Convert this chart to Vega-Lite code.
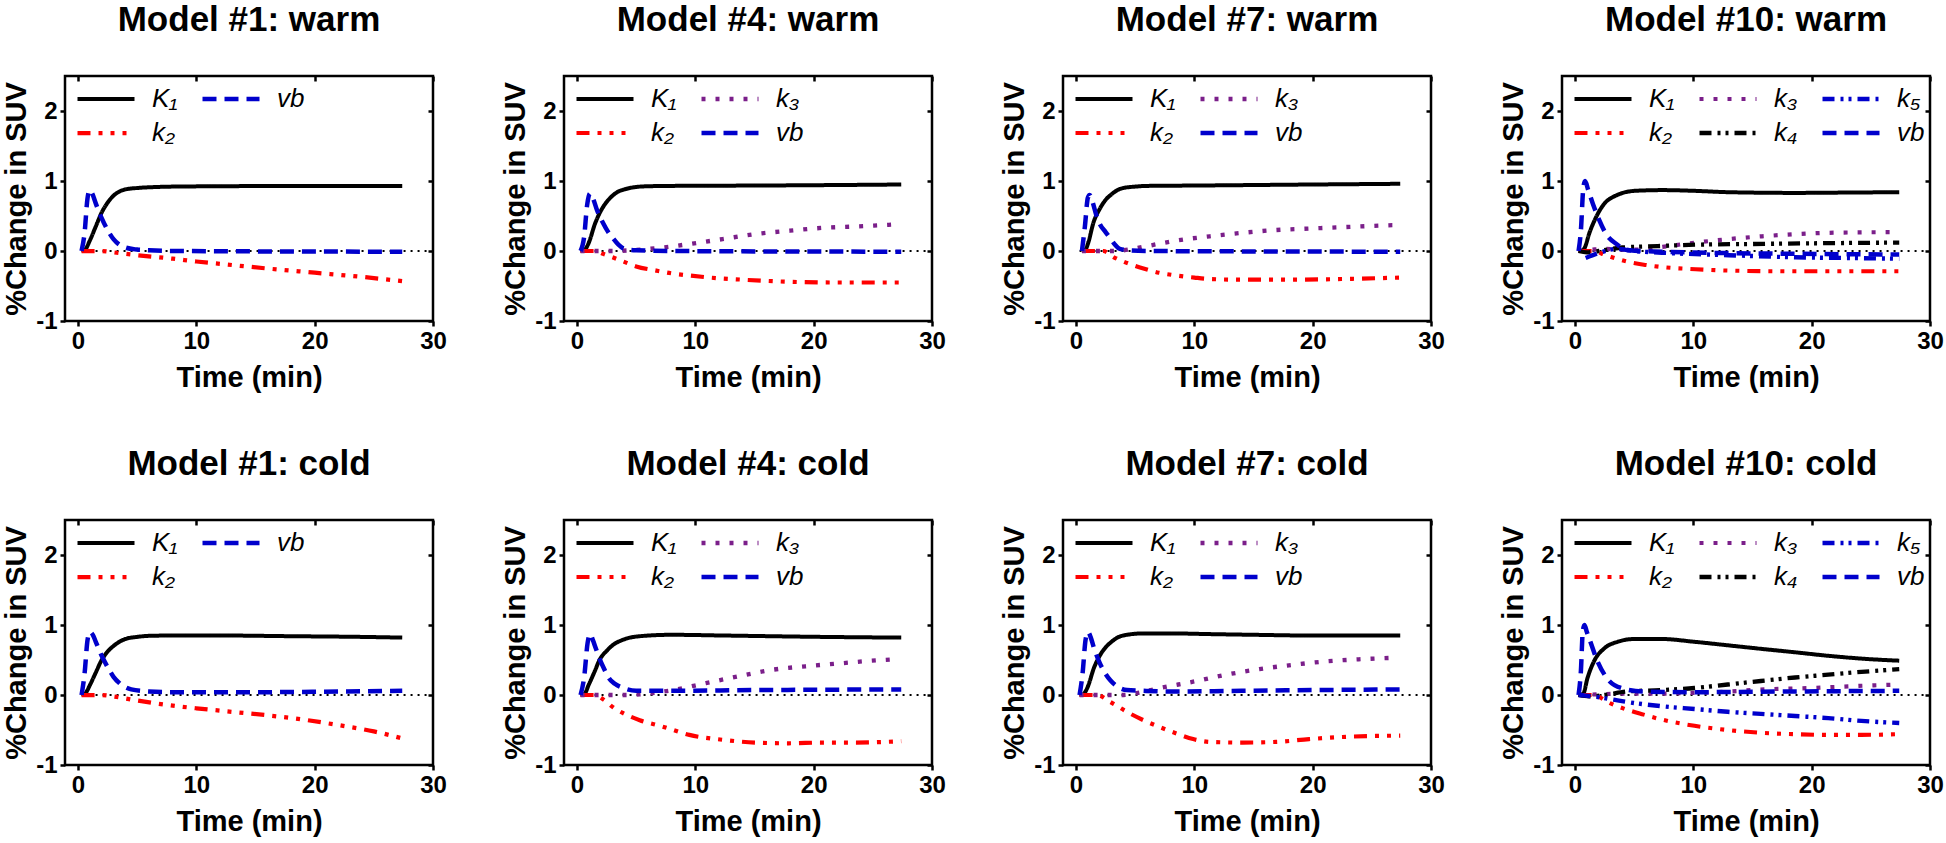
{
"$schema": "https://vega.github.io/schema/vega-lite/v6.json",
"padding": {"left": 1, "top": 1, "right": 0, "bottom": 0},
"background": "white",
"datasets": {
"m1w": [
{"s":"K₁","t":0.3,"v":0},{"s":"K₁","t":0.6,"v":0.02},{"s":"K₁","t":1,"v":0.15},{"s":"K₁","t":1.5,"v":0.35},{"s":"K₁","t":2,"v":0.55},{"s":"K₁","t":2.5,"v":0.69},{"s":"K₁","t":3,"v":0.79},{"s":"K₁","t":3.5,"v":0.85},{"s":"K₁","t":4,"v":0.88},{"s":"K₁","t":5,"v":0.9},{"s":"K₁","t":6,"v":0.91},{"s":"K₁","t":8,"v":0.92},{"s":"K₁","t":12,"v":0.925},{"s":"K₁","t":18,"v":0.93},{"s":"K₁","t":27.4,"v":0.93},
{"s":"k₂","t":0.3,"v":0},{"s":"k₂","t":2,"v":0},{"s":"k₂","t":3,"v":-0.02},{"s":"k₂","t":5,"v":-0.06},{"s":"k₂","t":8,"v":-0.11},{"s":"k₂","t":10,"v":-0.15},{"s":"k₂","t":13,"v":-0.2},{"s":"k₂","t":16,"v":-0.25},{"s":"k₂","t":20,"v":-0.31},{"s":"k₂","t":24,"v":-0.37},{"s":"k₂","t":27.4,"v":-0.43},
{"s":"vb","t":0.3,"v":0},{"s":"vb","t":0.55,"v":0.25},{"s":"vb","t":0.8,"v":0.75},{"s":"vb","t":1,"v":0.87},{"s":"vb","t":1.2,"v":0.82},{"s":"vb","t":1.5,"v":0.68},{"s":"vb","t":2,"v":0.47},{"s":"vb","t":2.5,"v":0.3},{"s":"vb","t":3,"v":0.17},{"s":"vb","t":3.5,"v":0.09},{"s":"vb","t":4,"v":0.05},{"s":"vb","t":5,"v":0.02},{"s":"vb","t":6,"v":0.01},{"s":"vb","t":8,"v":0},{"s":"vb","t":27.4,"v":-0.01}
],
"m1c": [
{"s":"K₁","t":0.3,"v":0},{"s":"K₁","t":0.6,"v":0.02},{"s":"K₁","t":1,"v":0.14},{"s":"K₁","t":1.5,"v":0.32},{"s":"K₁","t":2,"v":0.5},{"s":"K₁","t":2.5,"v":0.62},{"s":"K₁","t":3,"v":0.7},{"s":"K₁","t":3.5,"v":0.76},{"s":"K₁","t":4,"v":0.8},{"s":"K₁","t":5,"v":0.83},{"s":"K₁","t":6,"v":0.845},{"s":"K₁","t":8,"v":0.85},{"s":"K₁","t":12,"v":0.85},{"s":"K₁","t":18,"v":0.84},{"s":"K₁","t":24,"v":0.83},{"s":"K₁","t":27.4,"v":0.82},
{"s":"k₂","t":0.3,"v":0},{"s":"k₂","t":2,"v":0},{"s":"k₂","t":3,"v":-0.02},{"s":"k₂","t":4.7,"v":-0.07},{"s":"k₂","t":7,"v":-0.13},{"s":"k₂","t":10,"v":-0.19},{"s":"k₂","t":13,"v":-0.24},{"s":"k₂","t":16,"v":-0.29},{"s":"k₂","t":19,"v":-0.35},{"s":"k₂","t":22,"v":-0.43},{"s":"k₂","t":25,"v":-0.52},{"s":"k₂","t":27.4,"v":-0.62},
{"s":"vb","t":0.3,"v":0},{"s":"vb","t":0.55,"v":0.3},{"s":"vb","t":0.8,"v":0.78},{"s":"vb","t":1,"v":0.9},{"s":"vb","t":1.25,"v":0.86},{"s":"vb","t":1.5,"v":0.76},{"s":"vb","t":2,"v":0.56},{"s":"vb","t":2.5,"v":0.4},{"s":"vb","t":3,"v":0.26},{"s":"vb","t":3.5,"v":0.17},{"s":"vb","t":4.5,"v":0.08},{"s":"vb","t":6,"v":0.05},{"s":"vb","t":8,"v":0.04},{"s":"vb","t":15,"v":0.04},{"s":"vb","t":22,"v":0.05},{"s":"vb","t":27.4,"v":0.06}
],
"m4w": [
{"s":"K₁","t":0.3,"v":0},{"s":"K₁","t":0.6,"v":0.01},{"s":"K₁","t":1,"v":0.12},{"s":"K₁","t":1.5,"v":0.38},{"s":"K₁","t":2,"v":0.57},{"s":"K₁","t":2.5,"v":0.7},{"s":"K₁","t":3,"v":0.79},{"s":"K₁","t":3.5,"v":0.85},{"s":"K₁","t":4,"v":0.88},{"s":"K₁","t":5,"v":0.915},{"s":"K₁","t":6,"v":0.925},{"s":"K₁","t":8,"v":0.93},{"s":"K₁","t":15,"v":0.935},{"s":"K₁","t":20,"v":0.94},{"s":"K₁","t":27.4,"v":0.95},
{"s":"k₂","t":0.3,"v":0},{"s":"k₂","t":1.5,"v":0},{"s":"k₂","t":2.2,"v":-0.04},{"s":"k₂","t":3,"v":-0.09},{"s":"k₂","t":3.9,"v":-0.15},{"s":"k₂","t":5,"v":-0.22},{"s":"k₂","t":6.7,"v":-0.28},{"s":"k₂","t":8,"v":-0.32},{"s":"k₂","t":9.5,"v":-0.35},{"s":"k₂","t":12,"v":-0.39},{"s":"k₂","t":14,"v":-0.41},{"s":"k₂","t":18,"v":-0.44},{"s":"k₂","t":22,"v":-0.45},{"s":"k₂","t":27.4,"v":-0.45},
{"s":"k₃","t":0.3,"v":0},{"s":"k₃","t":3,"v":0},{"s":"k₃","t":4.5,"v":0.01},{"s":"k₃","t":6.7,"v":0.04},{"s":"k₃","t":9.5,"v":0.1},{"s":"k₃","t":12.3,"v":0.17},{"s":"k₃","t":15,"v":0.24},{"s":"k₃","t":18,"v":0.29},{"s":"k₃","t":20.7,"v":0.33},{"s":"k₃","t":23.5,"v":0.35},{"s":"k₃","t":27,"v":0.38},
{"s":"vb","t":0.3,"v":0},{"s":"vb","t":0.6,"v":0.2},{"s":"vb","t":0.85,"v":0.65},{"s":"vb","t":1.1,"v":0.82},{"s":"vb","t":1.35,"v":0.75},{"s":"vb","t":1.7,"v":0.58},{"s":"vb","t":2.2,"v":0.4},{"s":"vb","t":2.6,"v":0.28},{"s":"vb","t":3,"v":0.19},{"s":"vb","t":3.5,"v":0.09},{"s":"vb","t":4,"v":0.03},{"s":"vb","t":5,"v":0.01},{"s":"vb","t":8,"v":0},{"s":"vb","t":27.4,"v":-0.01}
],
"m4c": [
{"s":"K₁","t":0.3,"v":0},{"s":"K₁","t":0.6,"v":0.01},{"s":"K₁","t":1,"v":0.15},{"s":"K₁","t":1.5,"v":0.34},{"s":"K₁","t":1.9,"v":0.5},{"s":"K₁","t":2.5,"v":0.63},{"s":"K₁","t":3,"v":0.71},{"s":"K₁","t":3.9,"v":0.79},{"s":"K₁","t":5.3,"v":0.84},{"s":"K₁","t":8,"v":0.86},{"s":"K₁","t":12.3,"v":0.85},{"s":"K₁","t":20.7,"v":0.83},{"s":"K₁","t":27.4,"v":0.82},
{"s":"k₂","t":0.3,"v":0},{"s":"k₂","t":1.5,"v":0},{"s":"k₂","t":2.2,"v":-0.06},{"s":"k₂","t":3,"v":-0.17},{"s":"k₂","t":3.9,"v":-0.26},{"s":"k₂","t":5.3,"v":-0.36},{"s":"k₂","t":7.2,"v":-0.45},{"s":"k₂","t":9.5,"v":-0.57},{"s":"k₂","t":12.3,"v":-0.64},{"s":"k₂","t":15.1,"v":-0.68},{"s":"k₂","t":17.9,"v":-0.69},{"s":"k₂","t":20.7,"v":-0.68},{"s":"k₂","t":23.5,"v":-0.68},{"s":"k₂","t":27.4,"v":-0.66},
{"s":"k₃","t":0.3,"v":0},{"s":"k₃","t":4,"v":0},{"s":"k₃","t":5.3,"v":0.01},{"s":"k₃","t":8.1,"v":0.07},{"s":"k₃","t":10.9,"v":0.17},{"s":"k₃","t":13.7,"v":0.27},{"s":"k₃","t":16.5,"v":0.36},{"s":"k₃","t":19.3,"v":0.41},{"s":"k₃","t":22.1,"v":0.45},{"s":"k₃","t":24.9,"v":0.49},{"s":"k₃","t":26.8,"v":0.51},
{"s":"vb","t":0.3,"v":0},{"s":"vb","t":0.6,"v":0.25},{"s":"vb","t":0.9,"v":0.75},{"s":"vb","t":1.1,"v":0.87},{"s":"vb","t":1.35,"v":0.78},{"s":"vb","t":1.6,"v":0.66},{"s":"vb","t":1.9,"v":0.52},{"s":"vb","t":2.3,"v":0.37},{"s":"vb","t":2.7,"v":0.24},{"s":"vb","t":3.2,"v":0.16},{"s":"vb","t":3.9,"v":0.1},{"s":"vb","t":5,"v":0.06},{"s":"vb","t":8,"v":0.06},{"s":"vb","t":15,"v":0.07},{"s":"vb","t":27.4,"v":0.08}
],
"m7w": [
{"s":"K₁","t":0.5,"v":0},{"s":"K₁","t":0.8,"v":0.02},{"s":"K₁","t":1,"v":0.1},{"s":"K₁","t":1.5,"v":0.42},{"s":"K₁","t":2,"v":0.6},{"s":"K₁","t":2.5,"v":0.73},{"s":"K₁","t":3,"v":0.81},{"s":"K₁","t":3.5,"v":0.87},{"s":"K₁","t":4,"v":0.9},{"s":"K₁","t":5,"v":0.92},{"s":"K₁","t":6,"v":0.93},{"s":"K₁","t":10,"v":0.935},{"s":"K₁","t":20,"v":0.95},{"s":"K₁","t":27.4,"v":0.96},
{"s":"k₂","t":0.5,"v":0},{"s":"k₂","t":2.3,"v":0},{"s":"k₂","t":3.2,"v":-0.09},{"s":"k₂","t":4,"v":-0.15},{"s":"k₂","t":5.7,"v":-0.25},{"s":"k₂","t":7,"v":-0.31},{"s":"k₂","t":8.5,"v":-0.35},{"s":"k₂","t":10,"v":-0.38},{"s":"k₂","t":11.3,"v":-0.4},{"s":"k₂","t":14,"v":-0.41},{"s":"k₂","t":18,"v":-0.41},{"s":"k₂","t":22.5,"v":-0.4},{"s":"k₂","t":27.4,"v":-0.38},
{"s":"k₃","t":0.5,"v":0},{"s":"k₃","t":3,"v":0},{"s":"k₃","t":4,"v":0.01},{"s":"k₃","t":5.7,"v":0.06},{"s":"k₃","t":8.5,"v":0.15},{"s":"k₃","t":11.3,"v":0.21},{"s":"k₃","t":14.1,"v":0.26},{"s":"k₃","t":16.9,"v":0.3},{"s":"k₃","t":19.7,"v":0.32},{"s":"k₃","t":22.5,"v":0.34},{"s":"k₃","t":26.8,"v":0.37},
{"s":"vb","t":0.5,"v":0},{"s":"vb","t":0.75,"v":0.35},{"s":"vb","t":1,"v":0.76},{"s":"vb","t":1.15,"v":0.8},{"s":"vb","t":1.4,"v":0.7},{"s":"vb","t":1.7,"v":0.52},{"s":"vb","t":2,"v":0.39},{"s":"vb","t":2.5,"v":0.27},{"s":"vb","t":2.9,"v":0.18},{"s":"vb","t":3.3,"v":0.09},{"s":"vb","t":3.7,"v":0.03},{"s":"vb","t":4.5,"v":0.01},{"s":"vb","t":6,"v":0},{"s":"vb","t":27.4,"v":-0.01}
],
"m7c": [
{"s":"K₁","t":0.3,"v":0},{"s":"K₁","t":0.6,"v":0.01},{"s":"K₁","t":1,"v":0.12},{"s":"K₁","t":1.5,"v":0.38},{"s":"K₁","t":2,"v":0.56},{"s":"K₁","t":2.5,"v":0.68},{"s":"K₁","t":3,"v":0.76},{"s":"K₁","t":3.5,"v":0.82},{"s":"K₁","t":4.3,"v":0.86},{"s":"K₁","t":5.7,"v":0.88},{"s":"K₁","t":8,"v":0.88},{"s":"K₁","t":11.3,"v":0.87},{"s":"K₁","t":15,"v":0.86},{"s":"K₁","t":19.7,"v":0.85},{"s":"K₁","t":27.4,"v":0.85},
{"s":"k₂","t":0.3,"v":0},{"s":"k₂","t":1.8,"v":0},{"s":"k₂","t":2.9,"v":-0.1},{"s":"k₂","t":4.3,"v":-0.24},{"s":"k₂","t":5.7,"v":-0.36},{"s":"k₂","t":7.1,"v":-0.46},{"s":"k₂","t":8.5,"v":-0.55},{"s":"k₂","t":9.9,"v":-0.63},{"s":"k₂","t":11.3,"v":-0.67},{"s":"k₂","t":14.1,"v":-0.68},{"s":"k₂","t":16.9,"v":-0.67},{"s":"k₂","t":19.7,"v":-0.63},{"s":"k₂","t":22.5,"v":-0.6},{"s":"k₂","t":27.4,"v":-0.58},
{"s":"k₃","t":0.3,"v":0},{"s":"k₃","t":4,"v":0},{"s":"k₃","t":5.5,"v":0.04},{"s":"k₃","t":7.1,"v":0.1},{"s":"k₃","t":9.9,"v":0.19},{"s":"k₃","t":12.7,"v":0.29},{"s":"k₃","t":15.5,"v":0.37},{"s":"k₃","t":18.3,"v":0.43},{"s":"k₃","t":21.1,"v":0.48},{"s":"k₃","t":23.9,"v":0.51},{"s":"k₃","t":26.7,"v":0.53},
{"s":"vb","t":0.3,"v":0},{"s":"vb","t":0.55,"v":0.3},{"s":"vb","t":0.8,"v":0.78},{"s":"vb","t":1,"v":0.9},{"s":"vb","t":1.25,"v":0.82},{"s":"vb","t":1.5,"v":0.68},{"s":"vb","t":2,"v":0.46},{"s":"vb","t":2.5,"v":0.3},{"s":"vb","t":2.9,"v":0.21},{"s":"vb","t":3.5,"v":0.12},{"s":"vb","t":4.3,"v":0.07},{"s":"vb","t":5.7,"v":0.06},{"s":"vb","t":8,"v":0.05},{"s":"vb","t":14,"v":0.06},{"s":"vb","t":20,"v":0.07},{"s":"vb","t":27.4,"v":0.08}
],
"m10w": [
{"s":"K₁","t":0.5,"v":0},{"s":"K₁","t":0.8,"v":0.04},{"s":"K₁","t":1.2,"v":0.25},{"s":"K₁","t":1.8,"v":0.49},{"s":"K₁","t":2.6,"v":0.7},{"s":"K₁","t":3.2,"v":0.77},{"s":"K₁","t":3.7,"v":0.81},{"s":"K₁","t":5.1,"v":0.86},{"s":"K₁","t":7.4,"v":0.87},{"s":"K₁","t":10,"v":0.86},{"s":"K₁","t":13,"v":0.84},{"s":"K₁","t":18.6,"v":0.83},{"s":"K₁","t":23,"v":0.835},{"s":"K₁","t":27.4,"v":0.84},
{"s":"k₂","t":0.3,"v":0},{"s":"k₂","t":1.5,"v":0},{"s":"k₂","t":2.6,"v":-0.06},{"s":"k₂","t":3.5,"v":-0.11},{"s":"k₂","t":4.6,"v":-0.16},{"s":"k₂","t":6,"v":-0.2},{"s":"k₂","t":7.4,"v":-0.23},{"s":"k₂","t":10.2,"v":-0.26},{"s":"k₂","t":13,"v":-0.28},{"s":"k₂","t":18.6,"v":-0.29},{"s":"k₂","t":27.4,"v":-0.29},
{"s":"k₃","t":0.3,"v":0},{"s":"k₃","t":1.5,"v":0.02},{"s":"k₃","t":2.5,"v":0.03},{"s":"k₃","t":4,"v":0.02},{"s":"k₃","t":5.5,"v":0.02},{"s":"k₃","t":7.4,"v":0.06},{"s":"k₃","t":10.2,"v":0.12},{"s":"k₃","t":13,"v":0.17},{"s":"k₃","t":15.8,"v":0.21},{"s":"k₃","t":18.6,"v":0.24},{"s":"k₃","t":21.5,"v":0.26},{"s":"k₃","t":27.4,"v":0.27},
{"s":"k₄","t":0.3,"v":0},{"s":"k₄","t":1,"v":-0.02},{"s":"k₄","t":2,"v":0},{"s":"k₄","t":4,"v":0.05},{"s":"k₄","t":7,"v":0.07},{"s":"k₄","t":10.2,"v":0.09},{"s":"k₄","t":15,"v":0.1},{"s":"k₄","t":20,"v":0.11},{"s":"k₄","t":27.4,"v":0.12},
{"s":"k₅","t":0.9,"v":-0.1},{"s":"k₅","t":2,"v":-0.03},{"s":"k₅","t":3.5,"v":0.03},{"s":"k₅","t":5,"v":0},{"s":"k₅","t":8,"v":-0.03},{"s":"k₅","t":13,"v":-0.06},{"s":"k₅","t":18.6,"v":-0.09},{"s":"k₅","t":23,"v":-0.1},{"s":"k₅","t":27.4,"v":-0.11},
{"s":"vb","t":0.3,"v":0},{"s":"vb","t":0.5,"v":0.3},{"s":"vb","t":0.7,"v":0.9},{"s":"vb","t":0.85,"v":1},{"s":"vb","t":1.1,"v":0.88},{"s":"vb","t":1.5,"v":0.68},{"s":"vb","t":2.05,"v":0.44},{"s":"vb","t":2.6,"v":0.25},{"s":"vb","t":3.5,"v":0.1},{"s":"vb","t":4.6,"v":0.01},{"s":"vb","t":7.4,"v":-0.01},{"s":"vb","t":13,"v":-0.03},{"s":"vb","t":18.6,"v":-0.04},{"s":"vb","t":27.4,"v":-0.05}
],
"m10c": [
{"s":"K₁","t":0.3,"v":0},{"s":"K₁","t":0.7,"v":0.02},{"s":"K₁","t":1.05,"v":0.24},{"s":"K₁","t":1.6,"v":0.48},{"s":"K₁","t":2.5,"v":0.67},{"s":"K₁","t":3.6,"v":0.76},{"s":"K₁","t":5,"v":0.8},{"s":"K₁","t":7.3,"v":0.8},{"s":"K₁","t":10.1,"v":0.76},{"s":"K₁","t":12.9,"v":0.71},{"s":"K₁","t":15.7,"v":0.66},{"s":"K₁","t":18.6,"v":0.61},{"s":"K₁","t":21.4,"v":0.56},{"s":"K₁","t":24.2,"v":0.52},{"s":"K₁","t":27.4,"v":0.49},
{"s":"k₂","t":0.3,"v":0},{"s":"k₂","t":1.5,"v":0},{"s":"k₂","t":3,"v":-0.12},{"s":"k₂","t":4.4,"v":-0.21},{"s":"k₂","t":5.8,"v":-0.28},{"s":"k₂","t":7.3,"v":-0.35},{"s":"k₂","t":10.1,"v":-0.44},{"s":"k₂","t":12.9,"v":-0.5},{"s":"k₂","t":15.7,"v":-0.54},{"s":"k₂","t":18.6,"v":-0.56},{"s":"k₂","t":21.4,"v":-0.57},{"s":"k₂","t":24,"v":-0.57},{"s":"k₂","t":27.4,"v":-0.56},
{"s":"k₃","t":0.3,"v":0},{"s":"k₃","t":2,"v":0.01},{"s":"k₃","t":4,"v":0.02},{"s":"k₃","t":7,"v":0.02},{"s":"k₃","t":10,"v":0.03},{"s":"k₃","t":13,"v":0.05},{"s":"k₃","t":16,"v":0.08},{"s":"k₃","t":20,"v":0.1},{"s":"k₃","t":24,"v":0.13},{"s":"k₃","t":27.4,"v":0.15},
{"s":"k₄","t":0.3,"v":0},{"s":"k₄","t":1.2,"v":-0.02},{"s":"k₄","t":2.5,"v":0},{"s":"k₄","t":4.4,"v":0.05},{"s":"k₄","t":7.3,"v":0.07},{"s":"k₄","t":10.1,"v":0.1},{"s":"k₄","t":12.9,"v":0.15},{"s":"k₄","t":15.7,"v":0.2},{"s":"k₄","t":18.6,"v":0.25},{"s":"k₄","t":21.4,"v":0.29},{"s":"k₄","t":24.2,"v":0.33},{"s":"k₄","t":27.4,"v":0.37},
{"s":"k₅","t":0.3,"v":0},{"s":"k₅","t":1.5,"v":-0.02},{"s":"k₅","t":3,"v":-0.06},{"s":"k₅","t":4.4,"v":-0.1},{"s":"k₅","t":7.3,"v":-0.16},{"s":"k₅","t":10.1,"v":-0.2},{"s":"k₅","t":12.9,"v":-0.24},{"s":"k₅","t":15.7,"v":-0.27},{"s":"k₅","t":18.6,"v":-0.3},{"s":"k₅","t":21.4,"v":-0.33},{"s":"k₅","t":24.2,"v":-0.37},{"s":"k₅","t":27.4,"v":-0.4},
{"s":"vb","t":0.3,"v":0},{"s":"vb","t":0.5,"v":0.35},{"s":"vb","t":0.65,"v":0.9},{"s":"vb","t":0.8,"v":1},{"s":"vb","t":1,"v":0.9},{"s":"vb","t":1.3,"v":0.76},{"s":"vb","t":1.9,"v":0.48},{"s":"vb","t":2.7,"v":0.24},{"s":"vb","t":3.9,"v":0.1},{"s":"vb","t":5.8,"v":0.05},{"s":"vb","t":10,"v":0.04},{"s":"vb","t":18,"v":0.05},{"s":"vb","t":27.4,"v":0.06}
]
},
"columns": 4,
"bounds": "flush",
"spacing": {"row": 199, "column": 131},
"resolve": {"scale": {"x": "independent", "y": "independent", "color": "independent", "strokeDash": "independent", "strokeWidth": "independent"}, "legend": {"color": "independent", "strokeDash": "independent", "strokeWidth": "independent"}},
"concat": [
{"title": "Model #1: warm", "width": 368, "height": 245, "resolve": {"axis": {"x": "independent", "y": "independent"}},
 "layer": [
  {"data": {"values": [{}]}, "mark": {"type": "rule", "color": "black", "strokeWidth": 2, "strokeDash": [2, 5]},
   "encoding": {"x": {"datum": 0.3, "type": "quantitative", "scale": {"domain": [-1.1, 30], "nice": false, "zero": false}, "axis": {"orient": "top", "values": [0, 10, 20, 30], "labels": false, "title": null, "tickSize": -5}}, "x2": {"datum": 29.5},
    "y": {"datum": 0, "type": "quantitative", "scale": {"domain": [-1, 2.5], "nice": false, "zero": false}, "axis": {"orient": "right", "values": [-1, 0, 1, 2], "labels": false, "title": null, "tickSize": -5}}}},
  {"data": {"name": "m1w"}, "mark": {"type": "line", "interpolate": "monotone"},
   "encoding": {"x": {"field": "t", "type": "quantitative", "scale": {"domain": [-1.1, 30], "nice": false, "zero": false}, "axis": {"title": "Time (min)", "values": [0, 10, 20, 30]}},
    "y": {"field": "v", "type": "quantitative", "scale": {"domain": [-1, 2.5], "nice": false, "zero": false}, "axis": {"title": "%Change in SUV", "values": [-1, 0, 1, 2], "labelExpr": "'' + datum.value"}},
    "color": {"field": "s", "type": "nominal", "scale": {"domain": ["K₁", "k₂", "vb"], "range": ["black", "#ff0000", "#0000cc"]}, "legend": {"title": null, "columns": 2}},
    "strokeDash": {"field": "s", "type": "nominal", "scale": {"domain": ["K₁", "k₂", "vb"], "range": [[1, 0], [13, 8, 4, 8, 4, 8, 4, 8], [14, 8]]}, "legend": {"title": null, "columns": 2}},
    "strokeWidth": {"field": "s", "type": "nominal", "scale": {"domain": ["K₁", "k₂", "vb"], "range": [4, 4.5, 5]}, "legend": {"title": null, "columns": 2}}}}
 ]},
{"title": "Model #4: warm", "width": 368, "height": 245, "resolve": {"axis": {"x": "independent", "y": "independent"}},
 "layer": [
  {"data": {"values": [{}]}, "mark": {"type": "rule", "color": "black", "strokeWidth": 2, "strokeDash": [2, 5]},
   "encoding": {"x": {"datum": 0.3, "type": "quantitative", "scale": {"domain": [-1.1, 30], "nice": false, "zero": false}, "axis": {"orient": "top", "values": [0, 10, 20, 30], "labels": false, "title": null, "tickSize": -5}}, "x2": {"datum": 29.5},
    "y": {"datum": 0, "type": "quantitative", "scale": {"domain": [-1, 2.5], "nice": false, "zero": false}, "axis": {"orient": "right", "values": [-1, 0, 1, 2], "labels": false, "title": null, "tickSize": -5}}}},
  {"data": {"name": "m4w"}, "mark": {"type": "line", "interpolate": "monotone"},
   "encoding": {"x": {"field": "t", "type": "quantitative", "scale": {"domain": [-1.1, 30], "nice": false, "zero": false}, "axis": {"title": "Time (min)", "values": [0, 10, 20, 30]}},
    "y": {"field": "v", "type": "quantitative", "scale": {"domain": [-1, 2.5], "nice": false, "zero": false}, "axis": {"title": "%Change in SUV", "values": [-1, 0, 1, 2], "labelExpr": "'' + datum.value"}},
    "color": {"field": "s", "type": "nominal", "scale": {"domain": ["K₁", "k₂", "k₃", "vb"], "range": ["black", "#ff0000", "#7b1f8a", "#0000cc"]}, "legend": {"title": null, "columns": 2}},
    "strokeDash": {"field": "s", "type": "nominal", "scale": {"domain": ["K₁", "k₂", "k₃", "vb"], "range": [[1, 0], [13, 8, 4, 8, 4, 8, 4, 8], [4, 10], [14, 8]]}, "legend": {"title": null, "columns": 2}},
    "strokeWidth": {"field": "s", "type": "nominal", "scale": {"domain": ["K₁", "k₂", "k₃", "vb"], "range": [4, 4.5, 4, 5]}, "legend": {"title": null, "columns": 2}}}}
 ]},
{"title": "Model #7: warm", "width": 368, "height": 245, "resolve": {"axis": {"x": "independent", "y": "independent"}},
 "layer": [
  {"data": {"values": [{}]}, "mark": {"type": "rule", "color": "black", "strokeWidth": 2, "strokeDash": [2, 5]},
   "encoding": {"x": {"datum": 0.3, "type": "quantitative", "scale": {"domain": [-1.1, 30], "nice": false, "zero": false}, "axis": {"orient": "top", "values": [0, 10, 20, 30], "labels": false, "title": null, "tickSize": -5}}, "x2": {"datum": 29.5},
    "y": {"datum": 0, "type": "quantitative", "scale": {"domain": [-1, 2.5], "nice": false, "zero": false}, "axis": {"orient": "right", "values": [-1, 0, 1, 2], "labels": false, "title": null, "tickSize": -5}}}},
  {"data": {"name": "m7w"}, "mark": {"type": "line", "interpolate": "monotone"},
   "encoding": {"x": {"field": "t", "type": "quantitative", "scale": {"domain": [-1.1, 30], "nice": false, "zero": false}, "axis": {"title": "Time (min)", "values": [0, 10, 20, 30]}},
    "y": {"field": "v", "type": "quantitative", "scale": {"domain": [-1, 2.5], "nice": false, "zero": false}, "axis": {"title": "%Change in SUV", "values": [-1, 0, 1, 2], "labelExpr": "'' + datum.value"}},
    "color": {"field": "s", "type": "nominal", "scale": {"domain": ["K₁", "k₂", "k₃", "vb"], "range": ["black", "#ff0000", "#7b1f8a", "#0000cc"]}, "legend": {"title": null, "columns": 2}},
    "strokeDash": {"field": "s", "type": "nominal", "scale": {"domain": ["K₁", "k₂", "k₃", "vb"], "range": [[1, 0], [13, 8, 4, 8, 4, 8, 4, 8], [4, 10], [14, 8]]}, "legend": {"title": null, "columns": 2}},
    "strokeWidth": {"field": "s", "type": "nominal", "scale": {"domain": ["K₁", "k₂", "k₃", "vb"], "range": [4, 4.5, 4, 5]}, "legend": {"title": null, "columns": 2}}}}
 ]},
{"title": "Model #10: warm", "width": 368, "height": 245, "resolve": {"axis": {"x": "independent", "y": "independent"}},
 "layer": [
  {"data": {"values": [{}]}, "mark": {"type": "rule", "color": "black", "strokeWidth": 2, "strokeDash": [2, 5]},
   "encoding": {"x": {"datum": 0.3, "type": "quantitative", "scale": {"domain": [-1.1, 30], "nice": false, "zero": false}, "axis": {"orient": "top", "values": [0, 10, 20, 30], "labels": false, "title": null, "tickSize": -5}}, "x2": {"datum": 29.5},
    "y": {"datum": 0, "type": "quantitative", "scale": {"domain": [-1, 2.5], "nice": false, "zero": false}, "axis": {"orient": "right", "values": [-1, 0, 1, 2], "labels": false, "title": null, "tickSize": -5}}}},
  {"data": {"name": "m10w"}, "mark": {"type": "line", "interpolate": "monotone"},
   "encoding": {"x": {"field": "t", "type": "quantitative", "scale": {"domain": [-1.1, 30], "nice": false, "zero": false}, "axis": {"title": "Time (min)", "values": [0, 10, 20, 30]}},
    "y": {"field": "v", "type": "quantitative", "scale": {"domain": [-1, 2.5], "nice": false, "zero": false}, "axis": {"title": "%Change in SUV", "values": [-1, 0, 1, 2], "labelExpr": "'' + datum.value"}},
    "color": {"field": "s", "type": "nominal", "scale": {"domain": ["K₁", "k₂", "k₃", "k₄", "k₅", "vb"], "range": ["black", "#ff0000", "#7b1f8a", "black", "#0000cc", "#0000cc"]}, "legend": {"title": null, "columns": 3}},
    "strokeDash": {"field": "s", "type": "nominal", "scale": {"domain": ["K₁", "k₂", "k₃", "k₄", "k₅", "vb"], "range": [[1, 0], [13, 8, 4, 8, 4, 8, 4, 8], [4, 10], [12, 6, 3, 5, 3, 6], [12, 6, 3, 5, 3, 6], [14, 8]]}, "legend": {"title": null, "columns": 3}},
    "strokeWidth": {"field": "s", "type": "nominal", "scale": {"domain": ["K₁", "k₂", "k₃", "k₄", "k₅", "vb"], "range": [4, 4.5, 4, 3, 3, 5]}, "legend": {"title": null, "columns": 3}}}}
 ]},
{"title": "Model #1: cold", "width": 368, "height": 245, "resolve": {"axis": {"x": "independent", "y": "independent"}},
 "layer": [
  {"data": {"values": [{}]}, "mark": {"type": "rule", "color": "black", "strokeWidth": 2, "strokeDash": [2, 5]},
   "encoding": {"x": {"datum": 0.3, "type": "quantitative", "scale": {"domain": [-1.1, 30], "nice": false, "zero": false}, "axis": {"orient": "top", "values": [0, 10, 20, 30], "labels": false, "title": null, "tickSize": -5}}, "x2": {"datum": 29.5},
    "y": {"datum": 0, "type": "quantitative", "scale": {"domain": [-1, 2.5], "nice": false, "zero": false}, "axis": {"orient": "right", "values": [-1, 0, 1, 2], "labels": false, "title": null, "tickSize": -5}}}},
  {"data": {"name": "m1c"}, "mark": {"type": "line", "interpolate": "monotone"},
   "encoding": {"x": {"field": "t", "type": "quantitative", "scale": {"domain": [-1.1, 30], "nice": false, "zero": false}, "axis": {"title": "Time (min)", "values": [0, 10, 20, 30]}},
    "y": {"field": "v", "type": "quantitative", "scale": {"domain": [-1, 2.5], "nice": false, "zero": false}, "axis": {"title": "%Change in SUV", "values": [-1, 0, 1, 2], "labelExpr": "'' + datum.value"}},
    "color": {"field": "s", "type": "nominal", "scale": {"domain": ["K₁", "k₂", "vb"], "range": ["black", "#ff0000", "#0000cc"]}, "legend": {"title": null, "columns": 2}},
    "strokeDash": {"field": "s", "type": "nominal", "scale": {"domain": ["K₁", "k₂", "vb"], "range": [[1, 0], [13, 8, 4, 8, 4, 8, 4, 8], [14, 8]]}, "legend": {"title": null, "columns": 2}},
    "strokeWidth": {"field": "s", "type": "nominal", "scale": {"domain": ["K₁", "k₂", "vb"], "range": [4, 4.5, 5]}, "legend": {"title": null, "columns": 2}}}}
 ]},
{"title": "Model #4: cold", "width": 368, "height": 245, "resolve": {"axis": {"x": "independent", "y": "independent"}},
 "layer": [
  {"data": {"values": [{}]}, "mark": {"type": "rule", "color": "black", "strokeWidth": 2, "strokeDash": [2, 5]},
   "encoding": {"x": {"datum": 0.3, "type": "quantitative", "scale": {"domain": [-1.1, 30], "nice": false, "zero": false}, "axis": {"orient": "top", "values": [0, 10, 20, 30], "labels": false, "title": null, "tickSize": -5}}, "x2": {"datum": 29.5},
    "y": {"datum": 0, "type": "quantitative", "scale": {"domain": [-1, 2.5], "nice": false, "zero": false}, "axis": {"orient": "right", "values": [-1, 0, 1, 2], "labels": false, "title": null, "tickSize": -5}}}},
  {"data": {"name": "m4c"}, "mark": {"type": "line", "interpolate": "monotone"},
   "encoding": {"x": {"field": "t", "type": "quantitative", "scale": {"domain": [-1.1, 30], "nice": false, "zero": false}, "axis": {"title": "Time (min)", "values": [0, 10, 20, 30]}},
    "y": {"field": "v", "type": "quantitative", "scale": {"domain": [-1, 2.5], "nice": false, "zero": false}, "axis": {"title": "%Change in SUV", "values": [-1, 0, 1, 2], "labelExpr": "'' + datum.value"}},
    "color": {"field": "s", "type": "nominal", "scale": {"domain": ["K₁", "k₂", "k₃", "vb"], "range": ["black", "#ff0000", "#7b1f8a", "#0000cc"]}, "legend": {"title": null, "columns": 2}},
    "strokeDash": {"field": "s", "type": "nominal", "scale": {"domain": ["K₁", "k₂", "k₃", "vb"], "range": [[1, 0], [13, 8, 4, 8, 4, 8, 4, 8], [4, 10], [14, 8]]}, "legend": {"title": null, "columns": 2}},
    "strokeWidth": {"field": "s", "type": "nominal", "scale": {"domain": ["K₁", "k₂", "k₃", "vb"], "range": [4, 4.5, 4, 5]}, "legend": {"title": null, "columns": 2}}}}
 ]},
{"title": "Model #7: cold", "width": 368, "height": 245, "resolve": {"axis": {"x": "independent", "y": "independent"}},
 "layer": [
  {"data": {"values": [{}]}, "mark": {"type": "rule", "color": "black", "strokeWidth": 2, "strokeDash": [2, 5]},
   "encoding": {"x": {"datum": 0.3, "type": "quantitative", "scale": {"domain": [-1.1, 30], "nice": false, "zero": false}, "axis": {"orient": "top", "values": [0, 10, 20, 30], "labels": false, "title": null, "tickSize": -5}}, "x2": {"datum": 29.5},
    "y": {"datum": 0, "type": "quantitative", "scale": {"domain": [-1, 2.5], "nice": false, "zero": false}, "axis": {"orient": "right", "values": [-1, 0, 1, 2], "labels": false, "title": null, "tickSize": -5}}}},
  {"data": {"name": "m7c"}, "mark": {"type": "line", "interpolate": "monotone"},
   "encoding": {"x": {"field": "t", "type": "quantitative", "scale": {"domain": [-1.1, 30], "nice": false, "zero": false}, "axis": {"title": "Time (min)", "values": [0, 10, 20, 30]}},
    "y": {"field": "v", "type": "quantitative", "scale": {"domain": [-1, 2.5], "nice": false, "zero": false}, "axis": {"title": "%Change in SUV", "values": [-1, 0, 1, 2], "labelExpr": "'' + datum.value"}},
    "color": {"field": "s", "type": "nominal", "scale": {"domain": ["K₁", "k₂", "k₃", "vb"], "range": ["black", "#ff0000", "#7b1f8a", "#0000cc"]}, "legend": {"title": null, "columns": 2}},
    "strokeDash": {"field": "s", "type": "nominal", "scale": {"domain": ["K₁", "k₂", "k₃", "vb"], "range": [[1, 0], [13, 8, 4, 8, 4, 8, 4, 8], [4, 10], [14, 8]]}, "legend": {"title": null, "columns": 2}},
    "strokeWidth": {"field": "s", "type": "nominal", "scale": {"domain": ["K₁", "k₂", "k₃", "vb"], "range": [4, 4.5, 4, 5]}, "legend": {"title": null, "columns": 2}}}}
 ]},
{"title": "Model #10: cold", "width": 368, "height": 245, "resolve": {"axis": {"x": "independent", "y": "independent"}},
 "layer": [
  {"data": {"values": [{}]}, "mark": {"type": "rule", "color": "black", "strokeWidth": 2, "strokeDash": [2, 5]},
   "encoding": {"x": {"datum": 0.3, "type": "quantitative", "scale": {"domain": [-1.1, 30], "nice": false, "zero": false}, "axis": {"orient": "top", "values": [0, 10, 20, 30], "labels": false, "title": null, "tickSize": -5}}, "x2": {"datum": 29.5},
    "y": {"datum": 0, "type": "quantitative", "scale": {"domain": [-1, 2.5], "nice": false, "zero": false}, "axis": {"orient": "right", "values": [-1, 0, 1, 2], "labels": false, "title": null, "tickSize": -5}}}},
  {"data": {"name": "m10c"}, "mark": {"type": "line", "interpolate": "monotone"},
   "encoding": {"x": {"field": "t", "type": "quantitative", "scale": {"domain": [-1.1, 30], "nice": false, "zero": false}, "axis": {"title": "Time (min)", "values": [0, 10, 20, 30]}},
    "y": {"field": "v", "type": "quantitative", "scale": {"domain": [-1, 2.5], "nice": false, "zero": false}, "axis": {"title": "%Change in SUV", "values": [-1, 0, 1, 2], "labelExpr": "'' + datum.value"}},
    "color": {"field": "s", "type": "nominal", "scale": {"domain": ["K₁", "k₂", "k₃", "k₄", "k₅", "vb"], "range": ["black", "#ff0000", "#7b1f8a", "black", "#0000cc", "#0000cc"]}, "legend": {"title": null, "columns": 3}},
    "strokeDash": {"field": "s", "type": "nominal", "scale": {"domain": ["K₁", "k₂", "k₃", "k₄", "k₅", "vb"], "range": [[1, 0], [13, 8, 4, 8, 4, 8, 4, 8], [4, 10], [12, 6, 3, 5, 3, 6], [12, 6, 3, 5, 3, 6], [14, 8]]}, "legend": {"title": null, "columns": 3}},
    "strokeWidth": {"field": "s", "type": "nominal", "scale": {"domain": ["K₁", "k₂", "k₃", "k₄", "k₅", "vb"], "range": [4, 4.5, 4, 3, 3, 5]}, "legend": {"title": null, "columns": 3}}}}
 ]}
],
"config": {
 "view": {"stroke": "black", "strokeWidth": 2.5},
 "font": "Liberation Sans",
 "title": {"font": "Liberation Sans", "fontSize": 35, "fontWeight": "bold", "color": "black", "offset": 37, "frame": "group", "anchor": "middle"},
 "axis": {"domain": false, "grid": false, "ticks": true, "tickColor": "black", "tickWidth": 2.5, "tickSize": 5, "labelFont": "Liberation Sans", "labelFontSize": 24, "labelFontWeight": "bold", "labelColor": "black", "labelPadding": 3, "labelFlush": false, "labelOverlap": false, "titleFont": "Liberation Sans", "titleFontSize": 29, "titleFontWeight": "bold", "titleColor": "black"},
 "axisX": {"titlePadding": 10},
 "axisY": {"titlePadding": 4},
 "legend": {"orient": "top-left", "offset": 10, "padding": 0, "labelFont": "Liberation Sans", "labelFontSize": 26, "labelFontStyle": "italic", "labelColor": "black", "labelOffset": 15, "symbolSize": 3249, "symbolType": "stroke", "columnPadding": 22, "rowPadding": 8, "clipHeight": 26, "labelLimit": 200}
}
}
